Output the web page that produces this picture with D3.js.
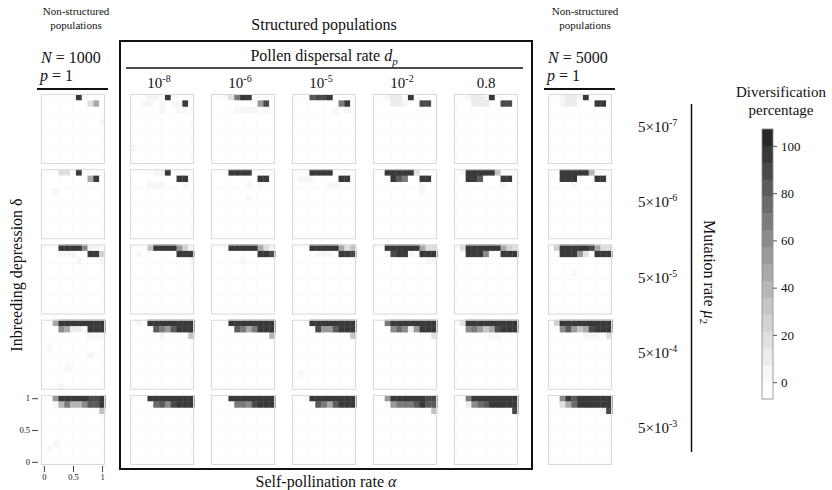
<!DOCTYPE html>
<html>
<head>
<meta charset="utf-8">
<script src="https://cdn.jsdelivr.net/npm/d3@7"></script>
<style>
  body { margin: 0; background: #fff; }
  text { font-family: "Liberation Serif", "DejaVu Serif", serif; fill: #111; }
</style>
</head>
<body>
<svg id="chart" width="832" height="490"></svg>
<script>
// ---- data -------------------------------------------------------------
const alphaValues = d3.range(11).map(i => i / 10);        // self-pollination rate
const deltaValues = d3.range(10, -1, -1).map(i => i / 10); // inbreeding depression, top row first
const populations = ["N1000", "1e-8", "1e-6", "1e-5", "1e-2", "0.8", "N5000"];
const dispersalRates = ["1e-8", "1e-6", "1e-5", "1e-2", "0.8"];
const dispersalLabels = [["10", "-8"], ["10", "-6"], ["10", "-5"], ["10", "-2"], ["0.8", ""]];
const mutationRates = ["5e-7", "5e-6", "5e-5", "5e-4", "5e-3"];
const mutationLabels = [["5×10", "-7"], ["5×10", "-6"], ["5×10", "-5"], ["5×10", "-4"], ["5×10", "-3"]];
const colorTicks = [0, 20, 40, 60, 80, 100];

// Diversification percentage for the three highest δ rows (1.0, 0.9, 0.8),
// one entry per population column; all lower rows are 0 unless listed in traceCells.
const mu5e7 = [
  [[0,0,0,0,0,0,100,0,0,0,0], [0,0,0,0,0,0,0,0,20,50,0], [0,0,0,0,0,0,0,0,0,0,0]],
  [[0,0,0,4,4,0,100,0,0,0,0], [0,0,4,4,0,4,0,4,4,100,0], [0,0,0,0,0,4,0,0,4,4,0]],
  [[0,0,4,15,65,95,100,0,0,0,0], [0,0,0,0,0,0,0,0,55,90,0], [0,0,0,0,4,4,4,4,0,4,0]],
  [[0,0,0,85,90,90,95,0,0,0,0], [0,0,0,0,0,0,0,0,70,100,0], [0,0,0,0,0,0,0,4,0,4,0]],
  [[0,0,6,10,10,0,100,0,0,0,0], [0,0,0,8,10,6,0,0,90,90,0], [0,0,0,0,0,0,0,0,0,0,0]],
  [[0,0,4,8,8,4,100,0,0,0,0], [0,0,0,8,10,8,0,0,90,90,0], [0,0,0,0,0,0,0,0,0,0,0]],
  [[0,0,6,10,10,6,100,0,0,0,0], [0,0,4,8,8,0,0,0,95,95,0], [0,0,0,0,0,0,0,0,0,0,0]]
];
const mu5e6 = [
  [[0,0,0,20,20,0,100,0,0,0,0], [0,0,0,0,0,0,0,0,50,100,0], [0,0,0,0,0,0,0,0,0,0,0]],
  [[0,0,0,0,4,4,100,0,0,0,0], [0,0,0,0,0,0,0,0,100,100,0], [0,0,0,4,4,4,0,0,0,4,0]],
  [[0,0,0,100,100,100,100,0,0,0,0], [0,0,0,0,0,0,0,0,100,100,0], [0,0,0,0,0,0,4,0,4,0,0]],
  [[0,0,0,100,100,100,100,0,0,0,0], [0,4,4,4,0,0,0,0,100,100,0], [0,0,0,0,0,0,4,4,0,0,0]],
  [[0,0,100,100,100,100,100,15,0,0,0], [0,0,0,95,80,70,0,0,100,100,0], [0,0,0,0,0,0,0,0,4,0,0]],
  [[0,4,100,100,100,100,100,35,0,0,0], [0,0,100,100,85,0,0,0,100,100,0], [0,0,0,0,0,0,0,0,4,0,0]],
  [[0,0,100,100,100,100,100,40,0,0,0], [0,0,100,100,95,0,0,0,100,100,0], [0,0,0,0,4,0,0,0,0,0,0]]
];
const mu5e5 = [
  [[0,0,0,100,100,100,100,60,6,6,0], [0,0,0,4,4,4,0,0,100,100,25], [0,0,0,0,0,0,4,0,0,0,4]],
  [[0,0,0,35,100,100,100,100,55,25,6], [0,4,0,0,0,0,0,0,100,100,100], [0,0,0,0,0,0,0,0,0,0,6]],
  [[0,0,0,100,100,100,100,100,45,20,6], [0,0,0,0,0,0,0,0,100,100,90], [0,0,0,0,0,4,0,0,0,0,0]],
  [[0,0,0,100,100,100,100,100,50,20,30], [0,0,0,0,4,4,4,0,100,100,90], [0,0,0,0,0,0,0,0,0,0,0]],
  [[0,0,100,100,100,100,100,100,50,20,15], [0,0,4,90,100,100,6,0,100,100,100], [0,0,0,0,0,0,0,0,0,4,4]],
  [[0,15,100,100,100,100,100,100,50,25,20], [0,0,100,100,95,60,6,0,100,100,100], [0,0,0,0,0,0,0,0,0,0,0]],
  [[0,25,100,100,100,100,100,90,50,20,20], [0,0,100,100,100,55,20,0,100,100,100], [0,0,0,0,0,0,0,0,0,0,0]]
];
const mu5e4 = [
  [[0,0,50,100,100,100,100,100,100,100,100], [0,0,0,60,45,10,10,4,100,100,100], [0,0,0,0,0,0,0,0,6,6,6]],
  [[0,4,0,100,100,100,100,100,100,100,100], [0,0,0,0,85,65,55,80,100,100,100], [0,0,0,0,0,4,0,0,0,0,35]],
  [[0,0,0,100,100,100,100,100,100,100,100], [0,0,0,0,85,65,45,70,100,100,100], [0,0,0,0,0,0,0,0,0,0,40]],
  [[0,0,0,100,100,100,100,100,100,100,100], [0,0,0,0,90,55,55,85,100,100,100], [0,0,0,0,0,0,0,0,0,0,35]],
  [[0,0,70,100,100,100,100,100,100,100,100], [0,0,0,60,75,60,10,55,100,100,100], [0,0,0,0,0,0,0,0,0,0,20]],
  [[0,20,100,100,100,100,100,100,100,100,100], [0,0,60,70,55,30,45,90,100,100,100], [0,0,0,0,0,0,4,4,0,0,0]],
  [[0,25,100,100,100,100,100,100,100,100,100], [0,0,60,80,55,35,45,90,100,100,100], [0,0,0,0,0,0,6,6,6,0,20]]
];
const mu5e3 = [
  [[0,0,55,100,100,100,100,100,90,90,95], [0,0,6,40,70,40,40,60,80,80,100], [0,0,0,0,0,0,0,0,0,0,35]],
  [[0,0,0,100,100,100,100,100,100,100,100], [0,0,0,0,75,80,60,90,100,100,100], [0,0,0,0,0,0,0,0,0,0,0]],
  [[0,0,0,100,100,100,100,100,100,100,100], [0,0,0,0,70,70,60,90,100,100,100], [0,0,0,0,0,0,0,0,0,0,0]],
  [[0,0,4,100,100,100,100,100,100,100,100], [0,0,0,0,85,65,45,85,100,100,100], [0,0,0,0,0,0,0,0,0,0,0]],
  [[0,0,55,100,100,100,100,100,100,90,90], [0,0,6,55,70,65,70,85,100,85,85], [0,0,0,0,0,0,0,0,0,0,30]],
  [[0,0,65,100,100,100,100,100,100,100,100], [0,0,10,60,75,80,100,100,100,100,100], [0,0,0,0,0,0,0,0,0,0,90]],
  [[0,0,60,95,80,100,100,100,100,100,100], [0,0,20,50,75,100,100,100,100,100,100], [0,0,0,0,0,0,0,0,0,6,90]]
];
// Small isolated values further down: [mutation row, population column, α, δ, %]
const traceCells = [
  [0, 0, 1.0, 0.6, 5], [0, 1, 0.0, 0.2, 5],
  [1, 0, 0.2, 0.7, 5], [1, 2, 0.6, 0.6, 5], [1, 4, 0.8, 0.7, 5],
  [2, 6, 0.4, 0.6, 5],
  [3, 0, 0.1, 0.6, 5], [3, 0, 0.8, 0.5, 5], [3, 0, 0.4, 0.3, 5], [3, 0, 0.3, 0.0, 5],
  [3, 3, 0.1, 0.2, 5],
  [4, 0, 0.1, 0.2, 5], [4, 0, 0.2, 0.3, 5]
];

// ---- layout -----------------------------------------------------------
const svg = d3.select("#chart");
const panelW = 64, panelH = 70;

const rowScale = d3.scaleBand().domain(mutationRates).range([94, 465]).paddingInner(0.07).paddingOuter(0);
const dispScale = d3.scaleBand().domain(dispersalRates).range([130, 518]).paddingInner(0.21).paddingOuter(0);
const colX = { "N1000": 41, "N5000": 548 };
dispersalRates.forEach(d => colX[d] = dispScale(d));

const xCell = d3.scaleLinear().domain([-0.05, 1.05]).range([0, panelW]);
const yCell = d3.scaleLinear().domain([-0.05, 1.05]).range([panelH, 0]);

// Discrete grey ramp: 16 levels of width 100/14, each level closed at its upper edge
const nLevels = 16;
const step = 100 / 14;
const cDomain = [-step, 100 + step];
const greys = d3.range(nLevels).map(k => {
  const t = k / (nLevels - 1);
  const g = Math.round(255 - 215 * Math.pow(t, 1.2));
  return d3.rgb(g, g, g).formatHex();
});
const thresholds = d3.range(1, nLevels).map(k => cDomain[0] + k * step + 1e-6);
const color = d3.scaleThreshold().domain(thresholds).range(greys);

// ---- assemble panel matrices -----------------------------------------
const topRows = [mu5e7, mu5e6, mu5e5, mu5e4, mu5e3];
const cells = [];
mutationRates.forEach((mu, m) => {
  populations.forEach((pop, p) => {
    deltaValues.forEach((delta, r) => {
      alphaValues.forEach((alpha, c) => {
        const v = r < 3 ? topRows[m][p][r][c] : 0;
        cells.push({ m, p, mu, pop, alpha, delta, v });
      });
    });
  });
});
traceCells.forEach(([m, p, a, d, v]) => {
  const cell = cells.find(e => e.m === m && e.p === p && Math.abs(e.alpha - a) < 1e-9 && Math.abs(e.delta - d) < 1e-9);
  if (cell) cell.v = v;
});

// ---- heatmap panels ---------------------------------------------------
const panels = svg.append("g").selectAll("g.panel")
  .data(d3.cross(mutationRates, populations))
  .join("g")
  .attr("class", "panel")
  .attr("transform", ([mu, pop]) => `translate(${colX[pop]},${rowScale(mu)})`);

panels.selectAll("rect.cell")
  .data(([mu, pop]) => cells.filter(e => e.mu === mu && e.pop === pop))
  .join("rect")
  .attr("class", "cell")
  .attr("x", d => xCell(d.alpha - 0.05))
  .attr("y", d => yCell(d.delta + 0.05))
  .attr("width", xCell(0.1) - xCell(0) + 0.4)
  .attr("height", yCell(0) - yCell(0.1) + 0.4)
  .attr("fill", d => color(d.v));

// faint grid and frame
panels.each(function () {
  const g = d3.select(this);
  g.selectAll("line.gx").data([0, 0.25, 0.5, 0.75, 1]).join("line")
    .attr("x1", d => xCell(d)).attr("x2", d => xCell(d))
    .attr("y1", 0).attr("y2", panelH)
    .attr("stroke", "#000").attr("stroke-opacity", 0.025);
  g.selectAll("line.gy").data([0, 0.25, 0.5, 0.75, 1]).join("line")
    .attr("y1", d => yCell(d)).attr("y2", d => yCell(d))
    .attr("x1", 0).attr("x2", panelW)
    .attr("stroke", "#000").attr("stroke-opacity", 0.025);
  g.append("rect").attr("x", 0.5).attr("y", 0.5)
    .attr("width", panelW - 1).attr("height", panelH - 1)
    .attr("fill", "none").attr("stroke", "#d9d9d9").attr("stroke-width", 1);
});

// axes on the bottom-left panel
const axisPanel = svg.append("g")
  .attr("transform", `translate(${colX["N1000"]},${rowScale("5e-3")})`);
const styleAxis = g => {
  g.select(".domain").remove();
  g.selectAll(".tick line").attr("stroke", "#444");
  g.selectAll(".tick text").style("font-size", "8.5px").attr("fill", "#333");
};
axisPanel.append("g").attr("transform", "translate(-3,0)")
  .call(d3.axisLeft(yCell).tickValues([0, 0.5, 1]).tickFormat(d3.format("~g")).tickSize(6).tickPadding(2))
  .call(styleAxis);
axisPanel.append("g").attr("transform", `translate(0,${panelH + 1})`)
  .call(d3.axisBottom(xCell).tickValues([0, 0.5, 1]).tickFormat(d3.format("~g")).tickSize(6).tickPadding(2))
  .call(styleAxis);

// ---- structured block frame and headers -------------------------------
svg.append("rect").attr("x", 120).attr("y", 41).attr("width", 412).attr("height", 428)
  .attr("fill", "none").attr("stroke", "#111").attr("stroke-width", 2);

svg.append("text").attr("x", 324).attr("y", 30).attr("text-anchor", "middle")
  .style("font-size", "16px").text("Structured populations");

const pollen = svg.append("text").attr("x", 324).attr("y", 61).attr("text-anchor", "middle")
  .style("font-size", "16px");
pollen.append("tspan").text("Pollen dispersal rate ");
pollen.append("tspan").style("font-style", "italic").text("d");
pollen.append("tspan").attr("dy", 4).style("font-size", "11px").style("font-style", "italic").text("p");
svg.append("line").attr("x1", 126).attr("x2", 523).attr("y1", 68).attr("y2", 68)
  .attr("stroke", "#111").attr("stroke-width", 1.5);

dispersalRates.forEach((d, i) => {
  const t = svg.append("text")
    .attr("x", dispScale(d) + dispScale.bandwidth() / 2 - (dispersalLabels[i][1] ? 3 : 0))
    .attr("y", 88).attr("text-anchor", "middle").style("font-size", "15px");
  t.append("tspan").text(dispersalLabels[i][0]);
  if (dispersalLabels[i][1]) t.append("tspan").attr("dy", -6).style("font-size", "10px").text(dispersalLabels[i][1]);
});

// non-structured headers
[["N1000", "1000", 41, 76, 37, 108], ["N5000", "5000", 548, 585, 544, 615]].forEach(([key, n, x0, xc, l1, l2]) => {
  svg.append("text").attr("x", xc).attr("y", 15).attr("text-anchor", "middle")
    .style("font-size", "11px").text("Non-structured");
  svg.append("text").attr("x", xc).attr("y", 29).attr("text-anchor", "middle")
    .style("font-size", "11px").text("populations");
  const tn = svg.append("text").attr("x", x0).attr("y", 63).style("font-size", "16px");
  tn.append("tspan").style("font-style", "italic").text("N");
  tn.append("tspan").text(" = " + n);
  const tp = svg.append("text").attr("x", x0 - 1).attr("y", 81).style("font-size", "16px");
  tp.append("tspan").style("font-style", "italic").text("p");
  tp.append("tspan").text(" = 1");
  svg.append("line").attr("x1", l1).attr("x2", l2).attr("y1", 89).attr("y2", 89)
    .attr("stroke", "#111").attr("stroke-width", 2);
});

// axis titles
svg.append("text").attr("transform", "translate(22,275) rotate(-90)")
  .attr("text-anchor", "middle").style("font-size", "16px").text("Inbreeding depression δ");

const selfT = svg.append("text").attr("x", 326).attr("y", 487).attr("text-anchor", "middle")
  .style("font-size", "16px");
selfT.append("tspan").text("Self-pollination rate ");
selfT.append("tspan").style("font-style", "italic").text("α");

// mutation rate labels
mutationRates.forEach((mu, i) => {
  const t = svg.append("text").attr("x", 638)
    .attr("y", rowScale(mu) + rowScale.bandwidth() / 2 + 3).style("font-size", "15px");
  t.append("tspan").text(mutationLabels[i][0]);
  t.append("tspan").attr("dy", -6).style("font-size", "10px").text(mutationLabels[i][1]);
});
svg.append("line").attr("x1", 691.5).attr("x2", 691.5).attr("y1", 104).attr("y2", 452)
  .attr("stroke", "#111").attr("stroke-width", 1.5);
const muT = svg.append("text").attr("transform", "translate(704,272) rotate(90)")
  .attr("text-anchor", "middle").style("font-size", "16px");
muT.append("tspan").text("Mutation rate ");
muT.append("tspan").style("font-style", "italic").text("μ");
muT.append("tspan").attr("dy", 4).style("font-size", "11px").text("2");

// ---- colour bar ------------------------------------------------------
const cbX = 762, cbW = 11;
const cbScale = d3.scaleLinear().domain(cDomain).range([399, 129]);
svg.append("text").attr("x", 781).attr("y", 97).attr("text-anchor", "middle")
  .style("font-size", "15px").text("Diversification");
svg.append("text").attr("x", 781).attr("y", 115).attr("text-anchor", "middle")
  .style("font-size", "15px").text("percentage");

const bands = d3.range(nLevels).map(k => cDomain[0] + k * step);
svg.append("g").selectAll("rect").data(bands).join("rect")
  .attr("x", cbX).attr("width", cbW)
  .attr("y", d => cbScale(d + step))
  .attr("height", d => cbScale(d) - cbScale(d + step) + 0.3)
  .attr("fill", d => color(d + step / 2));
svg.append("rect").attr("x", cbX).attr("y", 129).attr("width", cbW).attr("height", 270)
  .attr("fill", "none").attr("stroke", "#888").attr("stroke-width", 0.8);
svg.append("g").attr("transform", `translate(${cbX + cbW},0)`)
  .call(d3.axisRight(cbScale).tickValues(colorTicks).tickSize(4).tickPadding(4))
  .call(g => {
    g.select(".domain").remove();
    g.selectAll(".tick line").attr("stroke", "#555");
    g.selectAll(".tick text").style("font-size", "13px").attr("fill", "#222");
  });
</script>
</body>
</html>
